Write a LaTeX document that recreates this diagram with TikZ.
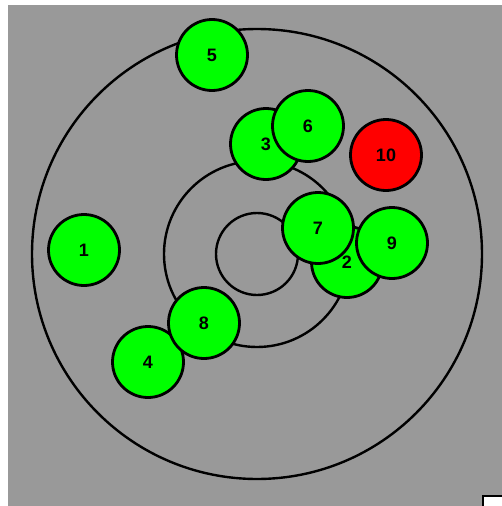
\documentclass[tikz,border=0pt]{standalone}
\usepackage{fontspec}
\setmainfont{Liberation Sans}
\begin{document}
\begin{tikzpicture}[x=1pt,y=-1pt,
  ball/.style={circle,draw=black,line width=2.8pt,minimum size=71pt,inner sep=0pt,font=\bfseries\fontsize{18}{18}\selectfont},
  greenball/.style={ball,fill=green},
  redball/.style={ball,fill=red},
  ring/.style={draw=black,line width=2.4pt}]
\useasboundingbox (0,0) rectangle (502,506);
\fill[white] (0,0) rectangle (502,506);
\fill[fill={rgb,255:red,153;green,153;blue,153}] (8,5) rectangle (502,506);
\coordinate (c) at (257,254);
\draw[ring] (c) circle (225);
\draw[ring] (c) circle (93);
\draw[ring] (c) circle (41);
\node[greenball] (n1) at (84,250) {1};
\node[greenball] (n2) at (347,262) {2};
\node[greenball] (n3) at (266,144) {3};
\node[greenball] (n4) at (148,362) {4};
\node[greenball] (n5) at (212,55) {5};
\node[greenball] (n6) at (308,126) {6};
\node[greenball] (n7) at (318,228) {7};
\node[greenball] (n8) at (204,323) {8};
\node[greenball] (n9) at (392,243) {9};
\node[redball] (n10) at (386,155) {10};
\draw[black,line width=2.6pt,fill=white] (483,496) rectangle (510,515);
\end{tikzpicture}
\end{document}
